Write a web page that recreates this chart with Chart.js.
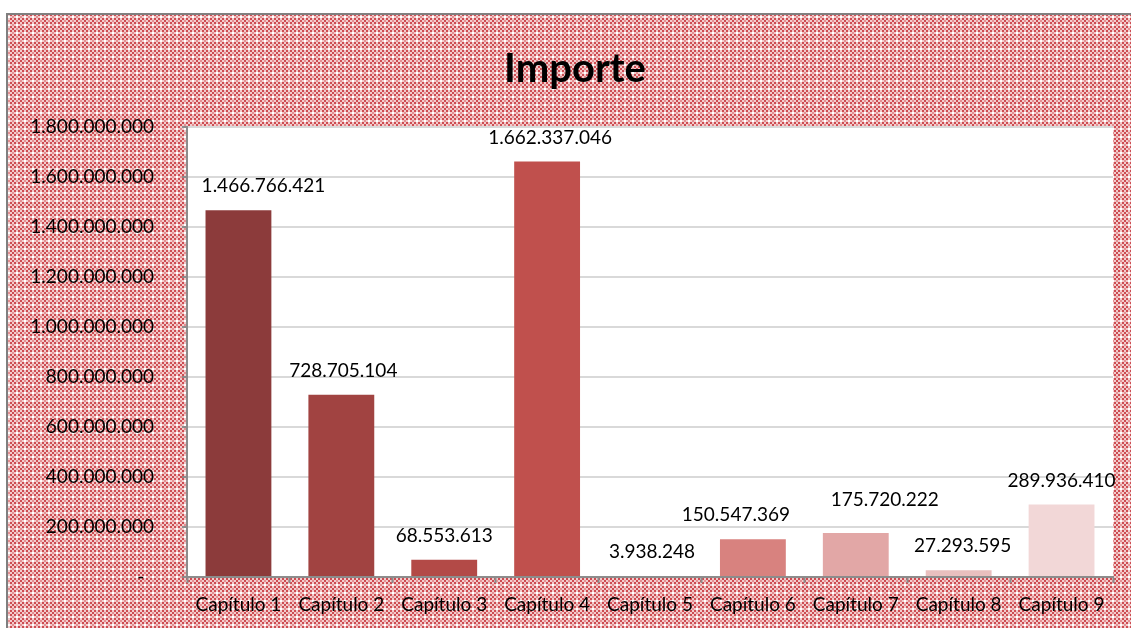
<!DOCTYPE html>
<html>
<head>
<meta charset="utf-8">
<script src="https://cdn.jsdelivr.net/npm/chart.js@4.4.0/dist/chart.umd.min.js"></script>
<style>
  html, body { margin: 0; padding: 0; background: #fff; overflow: hidden; }
  #wrap { position: relative; width: 1150px; height: 628px; }
</style>
</head>
<body>
<div id="wrap"><canvas id="myChart"></canvas></div>
<script>
// Datos
var categorias = ["Capítulo 1", "Capítulo 2", "Capítulo 3", "Capítulo 4", "Capítulo 5",
                  "Capítulo 6", "Capítulo 7", "Capítulo 8", "Capítulo 9"];
var importes = [1466766421, 728705104, 68553613, 1662337046, 3938248,
                150547369, 175720222, 27293595, 289936410];
var colores = ['#8c3b3b', '#a14341', '#b34a47', '#c0504d', '#c96765',
               '#d8827f', '#e2a7a6', '#e9bfbe', '#f2d7d7'];

// ajuste de etiquetas (como en Excel, para que no se solapen)
var ajusteEtiquetas = [[25, 0], [2, 0], [0, 0], [3, 0], [2, 0],
                       [-17, 0], [29, -9], [4, 0], [0, 0]];

function formato(v) {
  return String(Math.round(v)).replace(/\B(?=(\d{3})+(?!\d))/g, '.');
}

// patron de fondo (cuadros rojos)
function crearPatron(ctx) {
  var c = document.createElement('canvas');
  c.width = 8; c.height = 8;
  var p = c.getContext('2d');
  for (var by = 0; by < 4; by++) {
    for (var bx = 0; bx < 4; bx++) {
      var col;
      if (bx === 0 && by === 0) col = '#ffffff';
      else if ((bx + by) % 2 === 0) col = '#cd4c52';
      else col = '#f2cccc';
      p.fillStyle = col;
      p.fillRect(bx * 2, by * 2, 2, 2);
    }
  }
  p.fillStyle = '#e48f92';
  p.fillRect(4, 0, 2, 2);
  p.fillRect(0, 4, 2, 2);
  return ctx.createPattern(c, 'repeat');
}

var fondo = {
  id: 'fondo',
  beforeDraw: function(chart) {
    var ctx = chart.ctx, a = chart.chartArea;
    ctx.save();
    ctx.fillStyle = crearPatron(ctx);
    ctx.fillRect(7, 14, chart.width - 7, chart.height - 14);
    ctx.strokeStyle = '#7f7f7f';
    ctx.lineWidth = 2;
    ctx.beginPath();
    ctx.moveTo(7, chart.height);
    ctx.lineTo(7, 14);
    ctx.lineTo(chart.width, 14);
    ctx.stroke();
    ctx.fillStyle = '#ffffff';
    ctx.fillRect(a.left, a.top, a.right - a.left, a.bottom - a.top);
    ctx.restore();
  }
};

var etiquetas = {
  id: 'etiquetas',
  afterDatasetsDraw: function(chart) {
    var ctx = chart.ctx;
    var meta = chart.getDatasetMeta(0);
    ctx.save();
    ctx.font = '19px Lato';
    ctx.fillStyle = '#000';
    ctx.textAlign = 'center';
    ctx.textBaseline = 'middle';
    meta.data.forEach(function(bar, i) {
      var aj = ajusteEtiquetas[i];
      ctx.fillText(formato(importes[i]), bar.x + aj[0], bar.y - 24 + aj[1]);
    });
    ctx.restore();
  }
};

var ctx = document.getElementById('myChart').getContext('2d');
var myChart = new Chart(ctx, {
  type: 'bar',
  data: {
    labels: categorias,
    datasets: [{
      label: 'Importe',
      data: importes,
      backgroundColor: colores,
      barPercentage: 0.64,
      categoryPercentage: 1.0
    }]
  },
  options: {
    responsive: true,
    maintainAspectRatio: false,
    animation: false,
    layout: { padding: 0 },
    plugins: {
      legend: { display: false },
      tooltip: { enabled: false },
      title: {
        display: true,
        text: 'Importe',
        color: '#000',
        font: { family: 'Lato', size: 40, weight: 'bold', lineHeight: 1.2 },
        padding: { top: 45, bottom: 34 }
      }
    },
    scales: {
      x: {
        grid: {
          offset: true,
          drawOnChartArea: false,
          tickLength: 6,
          tickColor: '#8c8c8c',
          tickWidth: 2
        },
        border: { color: '#8c8c8c', width: 2 },
        ticks: { color: '#000', font: { family: 'Lato', size: 19 }, padding: 10, maxRotation: 0 },
        afterFit: function(s) { s.height = 51; }
      },
      y: {
        min: 0,
        max: 1800000000,
        ticks: {
          stepSize: 200000000,
          color: '#000',
          font: { family: 'Lato', size: 19 },
          padding: 28,
          callback: function(v) { return v === 0 ? '-  ' : formato(v); }
        },
        grid: { color: '#d9d9d9', lineWidth: 2, tickColor: '#8c8c8c', tickLength: 5 },
        border: { color: '#8c8c8c', width: 2 },
        afterFit: function(s) { s.width = 187; }
      },
      derecha: {
        position: 'right',
        min: 0,
        max: 1,
        display: true,
        ticks: { display: false },
        grid: { display: false, drawTicks: false },
        border: { display: false },
        afterFit: function(s) { s.width = 37; }
      }
    }
  },
  plugins: [fondo, etiquetas]
});
</script>
</body>
</html>
